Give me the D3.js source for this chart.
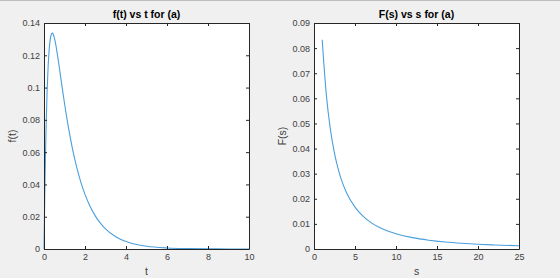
<!DOCTYPE html>
<html>
<head>
<meta charset="utf-8">
<script src="https://cdn.jsdelivr.net/npm/d3@7/dist/d3.min.js"></script>
<style>
  html, body { margin: 0; padding: 0; background: #f0f0f0; }
  svg { display: block; }
</style>
</head>
<body>
<svg id="chart" width="560" height="278"></svg>
<script>
// ---- data ----
const tValues = [0,0.05,0.1,0.15,0.2,0.25,0.3,0.35,0.4,0.45,0.5,0.6,0.7,0.8,0.9,1.0,1.2,1.4,1.6,1.8,2.0,2.25,2.5,2.75,3,3.5,4,4.5,5,6,7,8,9,10];
const fValues = [0,0.04311,0.07458,0.09709,0.11271,0.12308,0.12942,0.13273,0.13375,0.13306,0.13111,0.12476,0.11660,0.10775,0.09886,0.09029,0.07468,0.06142,0.05039,0.04129,0.03382,0.02635,0.02052,0.01598,0.01245,0.00755,0.00458,0.00278,0.00168,0.00062,0.00023,0.00008,0.00003,0.00001];
const sValues = [1,1.5,2,2.5,3,3.5,4,5,6,7,8,9,10,12,14,16,18,20,22,25];
const FValues = [0.08333,0.06154,0.04762,0.03810,0.03125,0.02614,0.02222,0.01667,0.01299,0.01042,0.00855,0.00714,0.00606,0.00452,0.00351,0.00280,0.00229,0.00190,0.00161,0.00128];
const leftXTicks = [0,2,4,6,8,10];
const leftYTicks = [0,0.02,0.04,0.06,0.08,0.1,0.12,0.14];
const rightXTicks = [0,5,10,15,20,25];
const rightYTicks = [0,0.01,0.02,0.03,0.04,0.05,0.06,0.07,0.08,0.09];
const titles = ["f(t) vs t for (a)", "F(s) vs s for (a)"];
const xLabels = ["t", "s"];
const yLabels = ["f(t)", "F(s)"];

const svg = d3.select("#chart");
svg.append("rect").attr("x",0).attr("y",0).attr("width",560).attr("height",278).attr("fill","#f0f0f0");
svg.append("rect").attr("x",0).attr("y",0).attr("width",560).attr("height",1).attr("fill","#bdbdbd");

const axisColor = "#262626";
const textColor = "#404040";
const font = "Liberation Sans, Arial, Helvetica, sans-serif";

function drawPanel(cfg) {
  const { x0, x1, y0, y1, xDomain, yDomain, xTicks, yTicks, xs, ys, title, xLabel, yLabel, yFmt, yLabelX } = cfg;
  const x = d3.scaleLinear().domain(xDomain).range([x0, x1]);
  const y = d3.scaleLinear().domain(yDomain).range([y1, y0]);
  const g = svg.append("g");
  g.append("rect").attr("x", x0).attr("y", y0).attr("width", x1 - x0).attr("height", y1 - y0).attr("fill", "#fff");

  const pts = xs.map((v, i) => [v, ys[i]]);
  g.append("path").datum(pts)
    .attr("fill", "none").attr("stroke", "#4a9fdc").attr("stroke-width", 1.1)
    .attr("d", d3.line().x(d => x(d[0])).y(d => y(d[1])).curve(d3.curveMonotoneX));

  const tl = 3;
  const bottom = g.append("g").attr("transform", `translate(0,${y1})`)
    .call(d3.axisBottom(x).tickValues(xTicks).tickSizeInner(-tl).tickSizeOuter(0).tickPadding(5).tickFormat(d3.format("")));
  const top = g.append("g").attr("transform", `translate(0,${y0})`)
    .call(d3.axisTop(x).tickValues(xTicks).tickSizeInner(-tl).tickSizeOuter(0).tickFormat(""));
  const left = g.append("g").attr("transform", `translate(${x0},0)`)
    .call(d3.axisLeft(y).tickValues(yTicks).tickSizeInner(-tl).tickSizeOuter(0).tickPadding(4).tickFormat(yFmt));
  const right = g.append("g").attr("transform", `translate(${x1},0)`)
    .call(d3.axisRight(y).tickValues(yTicks).tickSizeInner(-tl).tickSizeOuter(0).tickFormat(""));
  [bottom, top, left, right].forEach(a => {
    a.selectAll(".domain").attr("stroke", axisColor).attr("stroke-width", 1);
    a.selectAll(".tick line").attr("stroke", axisColor);
    a.selectAll(".tick text").attr("fill", textColor).attr("font-family", font).attr("font-size", 9);
  });

  g.append("text").attr("x", (x0 + x1) / 2).attr("y", y0 - 5)
    .attr("text-anchor", "middle").attr("font-family", font).attr("font-size", 10.5)
    .attr("font-weight", "bold").attr("fill", "#000").text(title);
  g.append("text").attr("x", (x0 + x1) / 2).attr("y", 275)
    .attr("text-anchor", "middle").attr("font-family", font).attr("font-size", 10.5)
    .attr("fill", textColor).text(xLabel);
  g.append("text").attr("transform", `translate(${yLabelX},${(y0 + y1) / 2}) rotate(-90)`)
    .attr("text-anchor", "middle").attr("font-family", font).attr("font-size", 10.5)
    .attr("fill", textColor).text(yLabel);
}

const fmt = d => d === 0 ? "0" : d3.format("")(+d.toFixed(4));

drawPanel({ x0: 44, x1: 249, y0: 23, y1: 249, xDomain: [0, 10], yDomain: [0, 0.14],
  xTicks: leftXTicks, yTicks: leftYTicks, xs: tValues, ys: fValues,
  title: titles[0], xLabel: xLabels[0], yLabel: yLabels[0], yFmt: fmt, yLabelX: 16 });
drawPanel({ x0: 314, x1: 519, y0: 23, y1: 249, xDomain: [0, 25], yDomain: [0, 0.09],
  xTicks: rightXTicks, yTicks: rightYTicks, xs: sValues, ys: FValues,
  title: titles[1], xLabel: xLabels[1], yLabel: yLabels[1], yFmt: fmt, yLabelX: 286 });
</script>
</body>
</html>
